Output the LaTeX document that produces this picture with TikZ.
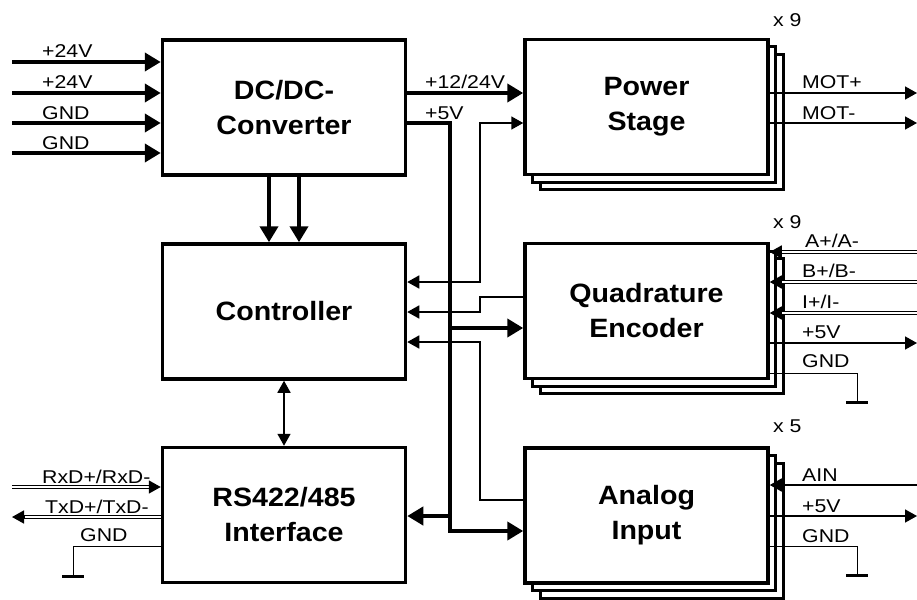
\documentclass[tikz,border=0pt]{standalone}
\usepackage{fontspec}
\setmainfont[FakeStretch=1.15]{Liberation Sans}
\newfontfamily\boxfont[FakeStretch=1.08]{Liberation Sans}
\usetikzlibrary{arrows.meta,calc}
\begin{document}
\begin{tikzpicture}[x=1pt,y=-1pt,
  box/.style={draw, line width=3.5pt, fill=white, minimum width=243pt, minimum height=135pt, align=center, inner sep=0pt, font=\boxfont\fontsize{26.5}{35}\selectfont\bfseries},
  shadowbox/.style={draw, line width=3pt, fill=white, minimum width=243pt, minimum height=135pt, inner sep=0pt},
  lbl/.style={anchor=base west, inner sep=0pt, font=\fontsize{18.5}{22}\selectfont},
  thk/.style={line width=4pt},
  thn/.style={line width=1.6pt},
  hair/.style={line width=1pt},
  dbl/.style={line width=1.1pt, double, double distance=2pt},
  bigtip/.style={-{Triangle[length=16pt,width=18pt]}},
  tip/.style={-{Triangle[length=12pt,width=13pt]}},
  bitip/.style={{Triangle[length=12pt,width=13pt]}-{Triangle[length=12pt,width=13pt]}},
  gndbar/.style={line width=3pt}
]
\fill[white] (0,0) rectangle (917,599);
\useasboundingbox (0,0) rectangle (917,599);

% ---- box centres
\coordinate (psc) at (646.5,107);
\coordinate (qec) at (646.5,311);
\coordinate (anc) at (646.5,515.5);

% ---- stacked shadows
\foreach \c in {psc,qec,anc}{
  \node[shadowbox] at ($(\c)+(15,15)$) {};
  \node[shadowbox] at ($(\c)+(7.5,7.5)$) {};
}

% ---- boxes
\node[box] (dc) at (284,107.5) {DC/DC-\\Converter};
\node[box] (ct) at (284,311.5) {Controller};
\node[box] (rs) at (284,515) {RS422/485\\Interface};
\node[box] (ps) at (psc) {Power\\Stage};
\node[box] (qe) at (qec) {Quadrature\\Encoder};
\node[box] (an) at (anc) {Analog\\Input};

% ---- multiplicity labels
\node[lbl] (n1) at (773,27) {x 9};
\node[lbl] (n2) at (773,228) {x 9};
\node[lbl] (n3) at (773,432) {x 5};

% ---- DC/DC inputs
\foreach \y/\t [count=\i] in {62/+24V,93/+24V,123/GND,153/GND}{
  \coordinate (in\i) at (12,\y);
  \draw[thk,bigtip] (in\i) -- (in\i -| dc.west);
  \node[lbl] (li\i) at (42,\y-4) {\t};
}

% ---- +12/24V
\coordinate (v12) at (405,93);
\draw[thk,bigtip] (dc.east |- v12) -- (ps.west |- v12);
\node[lbl] (l12) at (425,89) {+12/24V};

% ---- +5V bus
\coordinate (b1) at (450,123);
\coordinate (b2) at (450,531);
\coordinate (b3) at (450,516);
\coordinate (b4) at (450,328);
\draw[thk,bigtip] (dc.east |- b1) -- (b1) -- (b2) -- (an.west |- b2);
\draw[thk,bigtip] (b3) -- (rs.east |- b3);
\draw[thk,bigtip] (b4) -- (qe.west |- b4);
\node[lbl] (l5) at (425,119) {+5V};

% ---- DC/DC -> controller
\coordinate (x1) at (269,0);
\coordinate (x2) at (299,0);
\draw[thk,bigtip] (dc.south -| x1) -- (ct.north -| x1);
\draw[thk,bigtip] (dc.south -| x2) -- (ct.north -| x2);

% ---- controller <-> RS422
\draw[thn,bitip] (ct.south) -- (rs.north);

% ---- thin signal lines at x=480
\coordinate (t1) at (480,123);
\coordinate (t2) at (480,282);
\coordinate (t3) at (480,297);
\coordinate (t4) at (480,312);
\coordinate (t5) at (480,500);
\coordinate (t6) at (480,342);
\draw[thn,bitip] (ct.east |- t2) -- (t2) -- (t1) -- (ps.west |- t1);
\draw[thn,tip] (qe.west |- t3) -- (t3) -- (t4) -- (ct.east |- t4);
\draw[thn,tip] (an.west |- t5) -- (t5) -- (t6) -- (ct.east |- t6);

% ---- power stage outputs
\coordinate (m1) at (917,93);
\coordinate (m2) at (917,123);
\draw[thn,tip] (ps.east |- m1) -- (m1);
\draw[thn,tip] (ps.east |- m2) -- (m2);
\node[lbl] (lm1) at (802,89) {MOT+};
\node[lbl] (lm2) at (802,119) {MOT-};

% ---- quadrature encoder inputs
\foreach \y/\t/\lx [count=\i] in {252/A+{/}A-/805,282/B+{/}B-/802,313/I+{/}I-/802}{
  \coordinate (qa\i) at (917,\y);
  \coordinate (qh\i) at ($(qe.east |- qa\i)+(12,0)$);
  \draw[dbl] (qa\i) -- ($(qh\i)+(-2,0)$);
  \draw[thn,tip] (qh\i) -- (qe.east |- qa\i);
  \node[lbl] (lq\i) at (\lx,\y-5) {\t};
}
\coordinate (q5) at (917,343);
\draw[thn,tip] (qe.east |- q5) -- (q5);
\node[lbl] (lq4) at (802,338) {+5V};
\coordinate (g1) at (857,373);
\coordinate (g1b) at (857,402);
\draw[hair] (qe.east |- g1) -- (g1) -- (g1b);
\draw[gndbar] ($(g1b)+(-11,0)$) -- ($(g1b)+(11,0)$);
\node[lbl] (lq5) at (802,367) {GND};

% ---- analog input
\coordinate (ai) at (917,485);
\draw[thn,tip] (ai) -- (an.east |- ai);
\node[lbl] (la1) at (802,481) {AIN};
\coordinate (a5) at (917,516);
\draw[thn,tip] (an.east |- a5) -- (a5);
\node[lbl] (la2) at (802,512) {+5V};
\coordinate (g2) at (857,546);
\coordinate (g2b) at (857,575);
\draw[hair] (an.east |- g2) -- (g2) -- (g2b);
\draw[gndbar] ($(g2b)+(-11,0)$) -- ($(g2b)+(11,0)$);
\node[lbl] (la3) at (802,542) {GND};

% ---- RS422 lines
\coordinate (rx) at (12,487);
\coordinate (rxh) at ($(rs.west |- rx)+(-12,0)$);
\draw[dbl] (rx) -- ($(rxh)+(2,0)$);
\draw[thn,tip] (rxh) -- (rs.west |- rx);
\node[lbl] (lr1) at (42,483) {RxD+/RxD-};
\coordinate (tx) at (12,517);
\coordinate (txh) at ($(tx)+(12,0)$);
\draw[dbl] (rs.west |- tx) -- ($(txh)+(-2,0)$);
\draw[thn,tip] (txh) -- (tx);
\node[lbl] (lr2) at (45,513) {TxD+/TxD-};
\coordinate (g3) at (73,546);
\coordinate (g3b) at (73,576);
\draw[hair] (rs.west |- g3) -- (g3) -- (g3b);
\draw[gndbar] ($(g3b)+(-11,0)$) -- ($(g3b)+(11,0)$);
\node[lbl] (lr3) at (80,541) {GND};
\end{tikzpicture}
\end{document}
